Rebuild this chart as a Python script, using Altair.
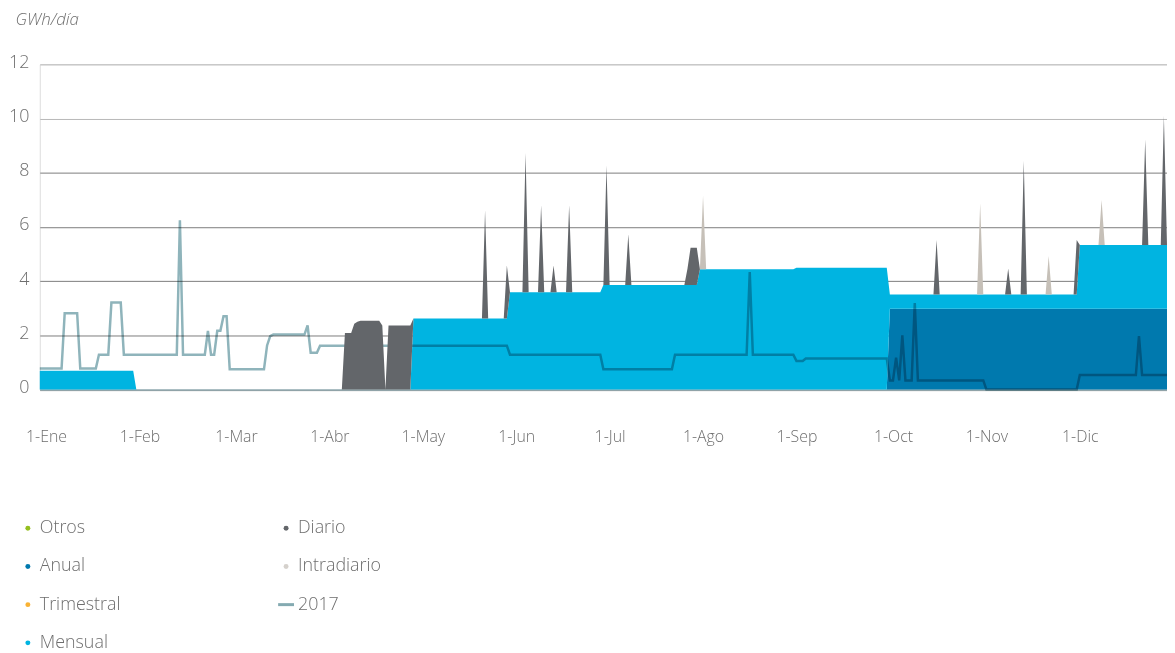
import altair as alt
import pandas as pd

# ---------------- data (day 0 = 1-Ene ... day 364 = 31-Dic) ----------------
N_DAYS = 365
x_domain = [0, 362]

month_labels = ["1-Ene", "1-Feb", "1-Mar", "1-Abr", "1-May", "1-Jun",
                "1-Jul", "1-Ago", "1-Sep", "1-Oct", "1-Nov", "1-Dic"]
month_label_days = [2, 32, 63, 93, 123, 153, 183, 213, 243, 274, 304, 334]

y_ticks = [0, 2, 4, 6, 8, 10, 12]

# runs of (first day, last day, GWh/día)
anual_runs = [(273, 364, 2.98)]
trimestral_runs = []
mensual_runs = [(0, 30, 0.70), (120, 150, 2.62), (151, 180, 3.59), (181, 211, 3.86),
                (212, 242, 4.44), (243, 272, 4.50), (273, 333, 0.53), (334, 364, 2.36)]
diario_runs = [(98, 100, 2.09), (101, 101, 2.43), (102, 102, 2.50), (103, 109, 2.54),
               (110, 110, 2.37), (112, 119, 2.37), (143, 143, 4.00), (150, 150, 1.96),
               (156, 156, 5.14), (161, 161, 3.21), (165, 165, 0.99), (170, 170, 3.21),
               (182, 182, 4.41), (189, 189, 1.87), (208, 208, 0.60), (209, 211, 1.37),
               (288, 288, 2.01), (311, 311, 0.96), (316, 316, 4.93), (333, 333, 2.01),
               (355, 355, 3.89), (361, 361, 4.76)]
intradiario_runs = [(213, 213, 2.71), (302, 302, 3.37), (324, 324, 1.42), (341, 341, 1.66)]
otros_runs = []

# 2017 reference line: breakpoints (day, GWh/día)
l2017_days = [0, 7, 8, 12, 13, 18, 19, 22, 23, 26, 27, 44, 45, 46, 53, 54, 55, 56, 57, 58,
              59, 60, 61, 72, 73, 74, 75, 85, 86, 87, 89, 90, 150, 151, 180, 181, 203, 204,
              227, 228, 229, 242, 243, 245, 246, 272, 273, 274, 275, 276, 277, 278, 280, 281,
              282, 303, 304, 333, 334, 352, 353, 354, 364]
l2017_vals = [0.78, 0.78, 2.82, 2.82, 0.78, 0.78, 1.29, 1.29, 3.21, 3.21, 1.29, 1.29, 6.25, 1.29,
              1.29, 2.17, 1.29, 1.29, 2.17, 2.17, 2.71, 2.71, 0.75, 0.75, 1.63, 1.97, 2.03, 2.03,
              2.37, 1.36, 1.36, 1.62, 1.62, 1.29, 1.29, 0.75, 0.75, 1.29, 1.29, 4.34, 1.29, 1.29,
              1.06, 1.06, 1.15, 1.15, 0.34, 0.34, 1.18, 0.34, 2.00, 0.34, 0.34, 3.19, 0.34, 0.34,
              0.00, 0.00, 0.54, 0.54, 1.97, 0.54, 0.54]

stack_series = ["Anual", "Trimestral", "Mensual", "Diario", "Intradiario", "Otros"]
series_runs = {"Anual": anual_runs, "Trimestral": trimestral_runs, "Mensual": mensual_runs,
               "Diario": diario_runs, "Intradiario": intradiario_runs, "Otros": otros_runs}

legend_order = ["Otros", "Anual", "Trimestral", "Mensual", "Diario", "Intradiario", "2017"]

# ---------------- styles ----------------
area_colors = {"Anual": "#0079ae", "Trimestral": "#f9b234", "Mensual": "#00b4e1",
               "Diario": "#63666a", "Intradiario": "#c6c0b8", "Otros": "#94bf1f"}
legend_colors = ["#94bf1f", "#0079ae", "#f9b234", "#00b4e1", "#63666a", "#d5d1cc", "#84aab1"]
legend_shapes = ["circle", "circle", "circle", "circle", "circle", "circle",
                 "M-3.2,-0.6H3.2V0.6H-3.2Z"]
line_color = "#8fb4bb"
text_color = "#6e6e6e"
FONT = "Open Sans"


def expand(runs):
    vals = [0.0] * N_DAYS
    for start, end, v in runs:
        for d in range(start, end + 1):
            vals[d] = v
    return vals


rows = []
for rank, s in enumerate(stack_series):
    vals = expand(series_runs[s])
    for d in range(N_DAYS):
        rows.append({"day": d, "serie": s, "rank": rank, "value": vals[d],
                     "color": area_colors[s]})
df = pd.DataFrame(rows)
line_df = pd.DataFrame({"day": l2017_days, "value": l2017_vals})
legend_df = pd.DataFrame({"serie": legend_order})

label_expr = "[{}][indexof([{}], datum.value)]".format(
    ",".join("'" + m + "'" for m in month_labels),
    ",".join(str(d) for d in month_label_days))

x_axis = alt.Axis(values=month_label_days, labelExpr=label_expr, grid=False, ticks=False,
                  domain=True, domainColor="#93adb3", domainWidth=1.5,
                  labelPadding=39, labelFontSize=16, labelColor=text_color,
                  labelFont=FONT, labelFontWeight=300, labelFlush=False, labelOverlap=False,
                  title=None)
y_axis = alt.Axis(values=y_ticks, grid=True,
                  gridColor={"condition": {"test": "datum.value >= 10", "value": "#b8b8b8"},
                             "value": "#7c7c7c"},
                  gridWidth=1, domain=False, ticks=False, labelPadding=11, labelFontSize=18,
                  labelColor=text_color, labelFont=FONT, labelFontWeight=300, labelOffset=-2,
                  title="GWh/día", titleAngle=0, titleAlign="left", titleBaseline="middle",
                  titleX=-25, titleY=-45, titleFontSize=17, titleFontStyle="italic",
                  titleFontWeight=300, titleColor=text_color, titleFont=FONT)

x_scale = alt.Scale(domain=x_domain, nice=False, zero=False)
y_scale = alt.Scale(domain=[0, 12], nice=False)
x_enc = alt.X("day:Q", scale=x_scale, axis=x_axis)

base = alt.Chart(df).transform_stack(
    stack="value", groupby=["day"], as_=["y0", "y1"],
    sort=[alt.SortField("rank", order="ascending")])


def area_layer(names):
    return base.transform_filter(
        alt.FieldOneOfPredicate(field="serie", oneOf=names)
    ).mark_area(interpolate="linear", strokeWidth=0).encode(
        x=x_enc,
        y=alt.Y("y0:Q", scale=y_scale, axis=y_axis),
        y2="y1:Q",
        color=alt.Color("color:N", scale=None),
        detail="serie:N",
    )


low_areas = area_layer(["Anual", "Trimestral", "Mensual"])
high_areas = area_layer(["Diario", "Intradiario", "Otros"])

line_2017 = alt.Chart(line_df).mark_line(
    color=line_color, strokeWidth=2.5, blend="multiply"
).encode(x=x_enc, y=alt.Y("value:Q", scale=y_scale, axis=y_axis))

legend_def = alt.Legend(orient="none", legendX=-21, legendY=458, columns=2, columnPadding=157,
                        rowPadding=20.5, symbolSize=25, symbolOpacity=1, symbolStrokeWidth=0,
                        labelFontSize=18, labelFont=FONT, labelFontWeight=300,
                        labelColor=text_color, labelOffset=3, title=None, padding=0)

legend_layer = alt.Chart(legend_df).mark_point(filled=True, opacity=0, size=25).encode(
    x=alt.value(0), y=alt.value(0),
    color=alt.Color("serie:N", scale=alt.Scale(domain=legend_order, range=legend_colors),
                    legend=legend_def, sort=legend_order),
    shape=alt.Shape("serie:N", scale=alt.Scale(domain=legend_order, range=legend_shapes),
                    legend=legend_def, sort=legend_order),
)

chart = alt.layer(low_areas, line_2017, high_areas, legend_layer).properties(
    width=1135, height=327.5,
    autosize=alt.AutoSizeParams(type="none"),
    padding={"left": 32, "top": 54.5, "right": 0, "bottom": 270},
).configure_view(strokeWidth=0).configure(font=FONT, background="white")

chart.save("out.html", embed_options={"renderer": "svg", "actions": False})
